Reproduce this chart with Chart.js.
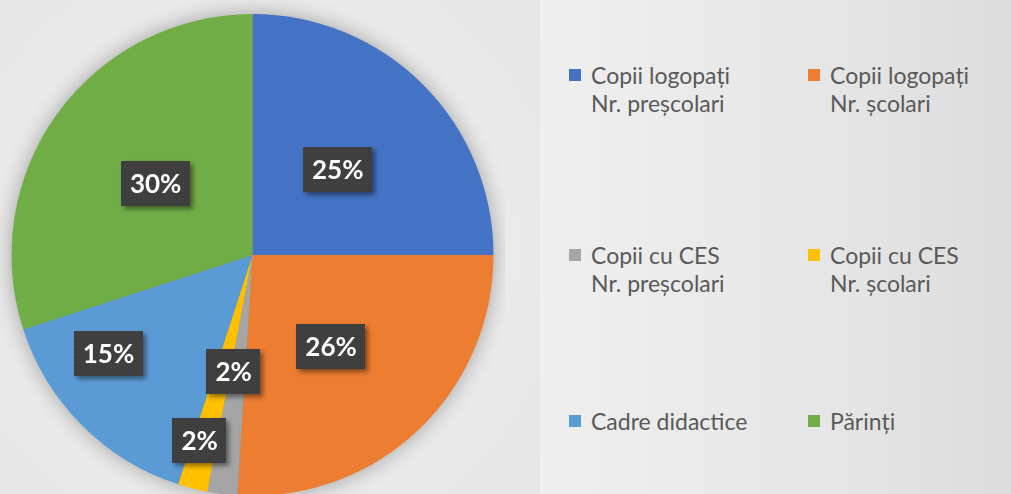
<!DOCTYPE html>
<html>
<head>
<meta charset="utf-8">
<script src="https://cdn.jsdelivr.net/npm/chart.js@4/dist/chart.umd.min.js"></script>
<style>
  html, body { margin: 0; padding: 0; }
  body {
    width: 1011px; height: 494px; overflow: hidden; position: relative;
    background: radial-gradient(circle at 255px 250px, #f4f4f4 0%, #e6e6e6 45%, #d6d6d6 80%, #d0d0d0 100%);
    font-family: Lato, "Open Sans", sans-serif;
  }
  #panou {
    position: absolute; left: 540px; top: 0; width: 471px; height: 494px;
    background: linear-gradient(to right, #efefef, #e6e6e6 60%, #dcdcdc);
  }
  #cutie-grafic { position: absolute; left: 0; top: 0; width: 505px; height: 510px; }
  .leg { position: absolute; color: #595959; font-size: 23px; line-height: 28px; }
  .leg .patrat { position: absolute; left: -22px; top: 8px; width: 12px; height: 12px; }
</style>
</head>
<body>
<div id="panou"></div>
<div id="cutie-grafic"><canvas id="grafic-pie"></canvas></div>
<div id="legenda"></div>
<script>
const categorii = [
  ["Copii logopați", "Nr. preșcolari"],
  ["Copii logopați", "Nr. școlari"],
  ["Copii cu CES", "Nr. preșcolari"],
  ["Copii cu CES", "Nr. școlari"],
  ["Cadre didactice"],
  ["Părinți"]
];
const valori = [25, 26, 2, 2, 15, 30];
const culori = ["#4472C4", "#ED7D31", "#A5A5A5", "#FFC000", "#5B9BD5", "#70AD47"];

// asezarea etichetelor: fractiune din raza si deplasare unghiulara (grade)
const razaEticheta = [0.5, 0.5, 0.49, 0.8, 0.725, 0.5];
const unghiEticheta = [0, 2.5, 2, 1.5, 10.5, 0.5];

// pozitiile legendei (coloana x, rand y)
const legendaX = [591, 830];
const legendaY = [61, 241, 407];

function modelPuncte() {
  const c = document.createElement("canvas");
  c.width = 4; c.height = 4;
  const g = c.getContext("2d");
  g.fillStyle = "#3d3d3d";
  g.fillRect(0, 0, 4, 4);
  g.fillStyle = "#4e4e4e";
  g.fillRect(1, 1, 1, 1);
  g.fillRect(3, 3, 1, 1);
  return c;
}

const umbraPie = {
  id: "umbraPie",
  beforeDatasetsDraw(chart) {
    const arc = chart.getDatasetMeta(0).data[0];
    if (!arc) return;
    const ctx = chart.ctx;
    ctx.save();
    ctx.shadowColor = "rgba(0,0,0,0.35)";
    ctx.shadowBlur = 22;
    ctx.fillStyle = "#888";
    ctx.beginPath();
    ctx.arc(arc.x, arc.y, arc.outerRadius - 1, 0, Math.PI * 2);
    ctx.fill();
    ctx.restore();
  }
};

const eticheteProcente = {
  id: "eticheteProcente",
  afterDatasetsDraw(chart) {
    const ctx = chart.ctx;
    const meta = chart.getDatasetMeta(0);
    const total = valori.reduce((a, b) => a + b, 0);
    const model = ctx.createPattern(modelPuncte(), "repeat");
    ctx.save();
    ctx.font = "bold 26px Lato, 'Open Sans', sans-serif";
    ctx.textAlign = "center";
    ctx.textBaseline = "middle";
    meta.data.forEach((arc, i) => {
      const mijloc = (arc.startAngle + arc.endAngle) / 2 + unghiEticheta[i] * Math.PI / 180;
      const r = arc.outerRadius * razaEticheta[i];
      const x = arc.x + Math.cos(mijloc) * r;
      const y = arc.y + Math.sin(mijloc) * r;
      const text = Math.round(valori[i] / total * 100) + "%";
      const w = ctx.measureText(text).width + 18;
      const h = 45;
      ctx.save();
      ctx.shadowColor = "rgba(0,0,0,0.45)";
      ctx.shadowBlur = 5;
      ctx.shadowOffsetX = 3;
      ctx.shadowOffsetY = 3;
      ctx.fillStyle = model;
      ctx.fillRect(Math.round(x - w / 2), Math.round(y - h / 2), Math.round(w), h);
      ctx.restore();
      ctx.fillStyle = "#ffffff";
      ctx.fillText(text, x, y + 1);
    });
    ctx.restore();
  }
};

function construiesteLegenda() {
  const legenda = document.getElementById("legenda");
  categorii.forEach((linii, i) => {
    const el = document.createElement("div");
    el.className = "leg";
    el.style.left = legendaX[i % 2] + "px";
    el.style.top = legendaY[Math.floor(i / 2)] + "px";
    const patrat = document.createElement("span");
    patrat.className = "patrat";
    patrat.style.background = culori[i];
    el.appendChild(patrat);
    linii.forEach((linie, j) => {
      if (j > 0) el.appendChild(document.createElement("br"));
      el.appendChild(document.createTextNode(linie));
    });
    legenda.appendChild(el);
  });
}

const contextGrafic = document.getElementById("grafic-pie").getContext("2d");
new Chart(contextGrafic, {
  type: "pie",
  data: {
    labels: categorii,
    datasets: [{
      data: valori,
      backgroundColor: culori,
      borderWidth: 0
    }]
  },
  options: {
    responsive: true,
    maintainAspectRatio: false,
    animation: false,
    layout: { padding: { top: 14, bottom: 14, left: 11, right: 11 } },
    plugins: {
      legend: { display: false },
      tooltip: { enabled: false }
    }
  },
  plugins: [umbraPie, eticheteProcente]
});

construiesteLegenda();
</script>
</body>
</html>
